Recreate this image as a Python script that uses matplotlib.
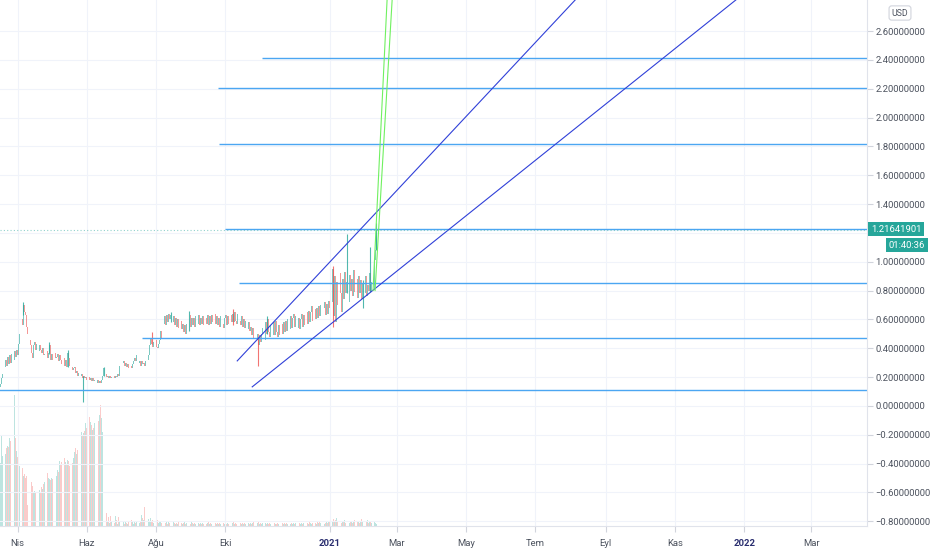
import numpy as np
import matplotlib
matplotlib.use("Agg")
import matplotlib.pyplot as plt
import matplotlib.dates as mdates
from datetime import datetime

plt.rcParams['font.family'] = ['Roboto', 'DejaVu Sans']

# daily candles, day 0 = 2020-03-17
start_date = datetime(2020, 3, 17)
closes = [
    0.15, 0.19, 0.22, 0.27, 0.32, 0.28, 0.34, 0.29, 0.35, 0.30,
    0.36, 0.32, 0.38, 0.34, 0.39, 0.35, 0.43, 0.50, 0.60, 0.56,
    0.70, 0.65, 0.63, 0.55, 0.50, 0.46, 0.42, 0.37, 0.33, 0.42,
    0.44, 0.39, 0.43, 0.38, 0.42, 0.39, 0.37, 0.40, 0.35, 0.36,
    0.38, 0.33, 0.37, 0.42, 0.32, 0.36, 0.32, 0.37, 0.33, 0.34,
    0.36, 0.31, 0.35, 0.32, 0.29, 0.33, 0.28, 0.32, 0.27, 0.37,
    0.33, 0.28, 0.27, 0.25, 0.26, 0.27, 0.23, 0.24, 0.21, 0.23,
    0.21, 0.22, 0.19, 0.21, 0.19, 0.20, 0.18, 0.20, 0.18, 0.19,
    0.17, 0.19, 0.17, 0.18, 0.16, 0.18, 0.16, 0.17, 0.16, 0.18,
    0.21, 0.26, 0.22, 0.20, 0.21, 0.19, 0.21, 0.19, 0.20, 0.21,
    0.19, 0.21, 0.20, 0.22, 0.21, 0.28, 0.33, 0.30, 0.31, 0.28,
    0.30, 0.27, 0.29, 0.26, 0.28, 0.26, 0.29, 0.31, 0.33, 0.31,
    0.35, 0.30, 0.31, 0.28, 0.31, 0.29, 0.30, 0.28, 0.31, 0.32,
    0.35, 0.42, 0.47, 0.43, 0.41, 0.44, 0.46, 0.41, 0.40, 0.43,
    0.46, 0.52, 0.47, 0.57, 0.62, 0.56, 0.63, 0.58, 0.64, 0.60,
    0.63, 0.58, 0.62, 0.56, 0.61, 0.55, 0.60, 0.54, 0.59, 0.53,
    0.57, 0.51, 0.56, 0.50, 0.57, 0.52, 0.63, 0.55, 0.61, 0.56,
    0.61, 0.55, 0.62, 0.57, 0.63, 0.56, 0.61, 0.57, 0.62, 0.56,
    0.61, 0.57, 0.63, 0.56, 0.62, 0.57, 0.63, 0.58, 0.64, 0.57,
    0.62, 0.56, 0.61, 0.55, 0.62, 0.57, 0.54, 0.61, 0.63, 0.56,
    0.62, 0.57, 0.63, 0.58, 0.64, 0.58, 0.65, 0.59, 0.57, 0.64,
    0.59, 0.56, 0.62, 0.55, 0.60, 0.54, 0.59, 0.53, 0.58, 0.52,
    0.55, 0.49, 0.54, 0.47, 0.52, 0.46, 0.50, 0.42, 0.49, 0.44,
    0.50, 0.54, 0.46, 0.58, 0.50, 0.60, 0.51, 0.48, 0.56, 0.49,
    0.58, 0.49, 0.59, 0.51, 0.48, 0.56, 0.49, 0.57, 0.50, 0.58,
    0.51, 0.59, 0.52, 0.60, 0.53, 0.62, 0.54, 0.61, 0.64, 0.55,
    0.62, 0.54, 0.61, 0.53, 0.60, 0.64, 0.55, 0.63, 0.56, 0.65,
    0.57, 0.66, 0.58, 0.65, 0.69, 0.59, 0.67, 0.60, 0.68, 0.61,
    0.69, 0.62, 0.70, 0.62, 0.68, 0.72, 0.63, 0.71, 0.64, 0.73,
    0.68, 0.72, 0.95, 0.62, 0.90, 0.58, 0.86, 0.70, 0.92, 0.78,
    0.65, 0.88, 0.74, 0.93, 0.78, 0.86, 0.72, 0.91, 0.80, 0.88,
    0.76, 0.94, 0.79, 0.88, 0.75, 0.90, 0.78, 0.87, 0.74, 0.85,
    0.78, 0.90, 0.76, 0.84, 0.80, 0.92, 0.79, 0.86, 0.82, 1.01,
    1.08, 1.21641901,
]
first_open = 0.13
# notable wicks: day -> (high, low)
wicks = {20: (0.72, 0.63), 43: (0.44, 0.36), 59: (0.39, 0.27), 73: (0.21, 0.03),
         91: (0.27, 0.21), 133: (0.51, 0.43), 150: (0.65, 0.58), 166: (0.66, 0.52),
         205: (0.67, 0.56), 227: (0.48, 0.28), 235: (0.62, 0.50), 293: (0.97, 0.55),
         305: (1.19, 0.78), 319: (0.87, 0.68), 325: (1.10, 0.79), 331: (1.27, 1.08)}

volumes = [
    63, 91, 70, 75, 72, 78, 80, 79, 88, 85,
    86, 53, 131, 88, 75, 69, 64, 60, 55, 58,
    50, 52, 48, 50, 21, 5, 6, 44, 40, 34,
    35, 33, 29, 35, 36, 33, 39, 37, 42, 44,
    46, 53, 48, 47, 46, 48, 47, 49, 48, 50,
    56, 54, 65, 62, 64, 59, 68, 64, 61, 66,
    65, 60, 67, 63, 68, 74, 78, 72, 76, 80,
    86, 94, 90, 93, 95, 103, 98, 98, 109, 104,
    101, 96, 98, 103, 108, 101, 105, 111, 121, 108,
    94, 100, 11, 13, 4, 9, 3, 10, 5, 8,
    3, 10, 6, 2, 9, 4, 10, 3, 5, 2,
    4, 3, 2, 5, 3, 6, 4, 2, 5, 3,
    4, 6, 3, 5, 11, 8, 6, 19, 9, 5,
    7, 4, 8, 5, 6, 3, 5, 4, 6, 3,
    5, 4, 3, 6, 4, 3, 5, 2, 4, 3,
    3, 2, 4, 3, 2, 3, 2, 4, 2, 3,
    2, 3, 4, 2, 3, 2, 3, 2, 4, 3,
    2, 3, 2, 4, 3, 2, 3, 2, 3, 2,
    3, 2, 3, 4, 2, 3, 2, 3, 2, 3,
    2, 3, 2, 3, 2, 2, 3, 2, 3, 2,
    3, 2, 3, 2, 3, 4, 2, 3, 2, 3,
    2, 3, 2, 3, 2, 3, 2, 2, 3, 2,
    3, 2, 3, 4, 3, 5, 3, 4, 2, 3,
    2, 3, 2, 3, 2, 3, 2, 3, 2, 3,
    2, 3, 2, 2, 3, 2, 3, 2, 3, 2,
    3, 2, 3, 2, 3, 2, 3, 2, 3, 2,
    3, 2, 2, 3, 2, 3, 2, 3, 2, 3,
    3, 2, 4, 3, 2, 3, 5, 3, 2, 4,
    3, 4, 3, 2, 3, 2, 3, 4, 3, 5,
    4, 6, 5, 7, 4, 6, 8, 5, 4, 6,
    3, 5, 4, 6, 3, 4, 5, 3, 4, 5,
    3, 4, 6, 3, 5, 4, 3, 5, 7, 4,
    3, 5, 4, 6, 3, 5, 4, 3, 5, 4,
    3, 2,
]

# drawings (day offset, price)
hline_prices = [2.415, 2.205, 1.817, 1.227, 0.853, 0.472, 0.108]
hline_starts = [230.4, 191.7, 192.6, 197.9, 210.2, 124.9, -2]
channel_upper = [(208.4, 0.312), (528.0, 3.0)]
channel_lower = [(221.6, 0.132), (680.0, 3.02)]
green_a = [(328.0, 0.80), (341.5, 3.0)]
green_b = [(329.8, 0.80), (346.2, 3.0)]
last_price = 1.21641901

tick_dates = [datetime(2020, 4, 1), datetime(2020, 6, 1), datetime(2020, 8, 1),
              datetime(2020, 10, 1), datetime(2021, 1, 1), datetime(2021, 3, 1),
              datetime(2021, 5, 1), datetime(2021, 7, 1), datetime(2021, 9, 1),
              datetime(2021, 11, 1), datetime(2022, 1, 1), datetime(2022, 3, 1)]
tick_labels = ['Nis', 'Haz', 'Ağu', 'Eki', '2021', 'Mar', 'May', 'Tem', 'Eyl',
               'Kas', '2022', 'Mar']
price_ticks = np.round(np.arange(-0.8, 2.61, 0.2), 2)


def price_fmt(v, pos):
    # the 1.2 label sits under the last-price box
    if abs(v - 1.2) < 1e-6:
        return ''
    return ('\u2212' if v < -1e-9 else '') + '%.8f' % abs(v)


base = mdates.date2num(start_date)
days = np.arange(len(closes))
x = base + days
closes = np.array(closes)
opens = np.concatenate([[first_open], closes[:-1]])
up = closes >= opens

UP, DOWN = '#26a69a', '#ef5350'

fig = plt.figure(figsize=(9.32, 5.5), dpi=100)
ax = fig.add_axes([0, 24 / 550, 867 / 932, 526 / 550])
ax2 = ax.twinx()
ax.set_zorder(ax2.get_zorder() + 1)
ax.patch.set_visible(False)

# volume
ax2.bar(x, volumes, width=0.7, color=np.where(up, UP, DOWN), alpha=0.3, linewidth=0)
ax2.set_ylim(0, 526)
ax2.axis('off')

# candles
ax.bar(x, closes - opens, bottom=opens, width=0.75, color=np.where(up, UP, DOWN),
       alpha=0.6, linewidth=0)
for d, (hi, lo) in wicks.items():
    c = UP if up[d] else DOWN
    ax.vlines(base + d, lo, hi, color=c, lw=0.8, alpha=0.8)

# drawings
xmax = base + 763
for p, s in zip(hline_prices, hline_starts):
    ax.hlines(p, base + s, xmax, color='#4ba6f2', lw=1.0)
for seg, col in [(channel_upper, '#3040d8'), (channel_lower, '#3040d8'),
                 (green_a, '#70f060'), (green_b, '#70f060')]:
    ax.plot([base + seg[0][0], base + seg[1][0]], [seg[0][1], seg[1][1]], color=col, lw=0.8)
ax.axhline(last_price, color='#26a69a', lw=0.8, ls=(0, (1, 2)), alpha=0.5)

ax.set_xlim(base - 0.5, xmax)
ax.set_ylim(-0.833, 2.815)

ax.grid(True, color='#f0f3fa', lw=0.8)
ax.set_axisbelow(True)
ax.set_yticks(price_ticks)
ax.yaxis.tick_right()
ax.yaxis.set_major_formatter(plt.FuncFormatter(price_fmt))
ax.set_xticks([mdates.date2num(t) for t in tick_dates])
ax.set_xticklabels(tick_labels)
ax.tick_params(axis='both', colors='#d1d4dc', labelcolor='#4c525e', labelsize=6.8,
               length=4, width=0.8)
ax.tick_params(axis='y', pad=2)
ax.tick_params(axis='x', pad=5)
for lbl in ax.get_xticklabels():
    if lbl.get_text() in ('2021', '2022'):
        lbl.set_fontweight('bold')
        lbl.set_color('#2a2e6f')
for s in ['top', 'left']:
    ax.spines[s].set_visible(False)
ax.spines['right'].set_color('#e0e3eb')
ax.spines['bottom'].set_color('#e0e3eb')

# price labels on the axis
fig.text(871 / 932, 1 - 229 / 550, '1.21641901', fontsize=6.8, color='white',
         va='center', ha='left',
         bbox=dict(boxstyle='square,pad=0.28', fc='#26a69a', ec='none'))
fig.text(925 / 932, 1 - 245 / 550, '01:40:36', fontsize=6.8, color='white',
         va='center', ha='right',
         bbox=dict(boxstyle='square,pad=0.28', fc='#26a69a', ec='none'))
fig.text(900 / 932, 1 - 13 / 550, 'USD', fontsize=6.3, color='#4c525e',
         va='center', ha='center',
         bbox=dict(boxstyle='round,pad=0.3', fc='white', ec='#d1d4dc', lw=0.8))

fig.savefig('out.png', dpi=100, facecolor='white')
